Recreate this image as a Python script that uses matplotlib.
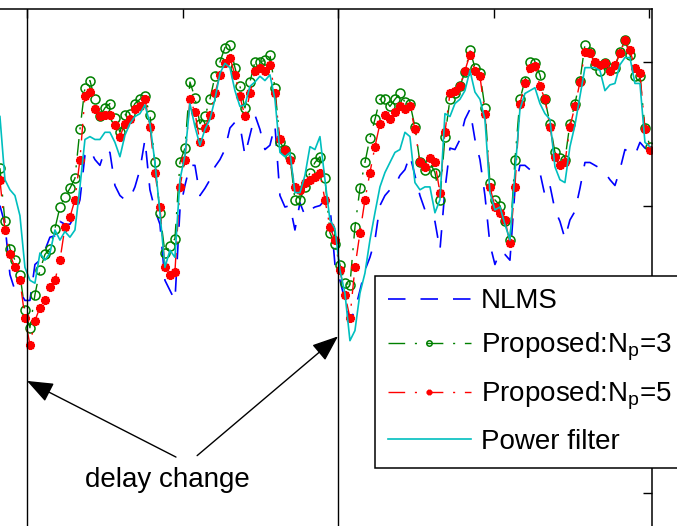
import numpy as np
import matplotlib.pyplot as plt

plt.rcParams['font.family'] = ['Liberation Sans', 'DejaVu Sans']
plt.rcParams['mathtext.fontset'] = 'custom'
plt.rcParams['mathtext.rm'] = 'Liberation Sans'
plt.rcParams['mathtext.it'] = 'Liberation Sans:italic'

# samples (only the visible part of the run)
n = np.linspace(913, 3003, 131)

# ERLE in dB
nlms = [20.0, 18.7, 15.2, 14.1, 14.0, 13.4, 13.4, 15.9, 16.2, 16.9,
        17.8, 17.9, 18.9, 18.7, 18.7, 19.3, 20.4, 23.5, 23.9, 23.2,
        22.8, 23.9, 23.7, 21.4, 20.7, 20.4, 20.5, 21.3, 22.5, 24.6,
        21.1, 19.7, 18.7, 14.8, 14.1, 13.4, 19.7, 21.4, 22.8, 22.8,
        20.7, 21.2, 21.8, 22.7, 23.2, 23.9, 25.4, 25.8, 25.6, 23.5,
        24.9, 26.3, 25.3, 23.9, 24.2, 25.6, 20.7, 19.9, 20.0, 18.3,
        20.2, 19.3, 19.7, 19.9, 20.0, 20.4, 20.0, 15.9, 14.8, 13.4,
        12.0, 12.7, 14.1, 15.5, 16.4, 17.6, 20.0, 20.7, 21.1, 21.4,
        22.1, 22.5, 23.5, 22.1, 20.7, 19.7, 19.3, 18.9, 16.9, 21.1,
        24.0, 23.9, 24.6, 26.0, 26.7, 24.6, 23.2, 20.7, 17.3, 15.9,
        16.8, 16.6, 16.2, 21.1, 22.8, 22.8, 22.5, 22.6, 22.3, 20.7,
        21.4, 19.7, 18.9, 17.7, 19.0, 19.6, 21.2, 23.0, 23.0, 22.8,
        22.6, 22.3, 21.8, 21.4, 22.5, 23.9, 23.7, 23.5, 24.4, 24.0,
        23.9]

prop3 = [22.6, 18.9, 17.0, 16.2, 15.2, 12.7, 11.5, 13.8, 15.5, 16.6,
         17.0, 18.4, 19.9, 20.6, 21.2, 21.9, 25.3, 28.2, 28.7, 27.4,
         26.2, 26.8, 27.1, 26.1, 25.1, 26.3, 26.4, 27.1, 27.4, 27.6,
         26.3, 23.0, 19.5, 16.7, 17.2, 17.7, 23.0, 24.0, 28.6, 27.5,
         25.7, 26.2, 27.4, 29.0, 30.0, 31.0, 31.2, 29.6, 28.3, 26.8,
         28.6, 30.0, 30.0, 30.1, 30.5, 28.2, 24.4, 23.9, 23.4, 20.4,
         20.4, 21.3, 22.3, 23.0, 23.4, 21.9, 18.1, 17.3, 15.9, 14.6,
         14.5, 18.5, 21.2, 23.0, 24.7, 26.0, 27.4, 27.4, 26.9, 27.4,
         27.8, 27.2, 27.1, 25.5, 23.0, 22.5, 23.0, 22.3, 20.4, 24.8,
         27.4, 27.8, 28.3, 29.3, 30.8, 29.6, 29.2, 26.8, 21.6, 20.4,
         20.0, 18.9, 17.6, 23.2, 27.4, 28.7, 30.0, 29.9, 29.1, 27.4,
         25.7, 23.7, 23.3, 23.2, 25.7, 27.1, 28.7, 31.2, 30.7, 29.8,
         29.4, 29.9, 29.6, 29.6, 30.7, 31.5, 30.5, 29.0, 29.0, 25.4,
         24.1]

prop5 = [21.8, 18.3, 16.6, 15.7, 14.8, 12.2, 10.3, 12.0, 12.9, 13.4,
         14.3, 14.8, 16.2, 18.5, 19.2, 20.4, 23.2, 27.6, 27.9, 26.7,
         26.2, 26.3, 26.3, 25.6, 24.8, 25.7, 26.0, 26.7, 26.9, 27.4,
         25.5, 22.3, 19.9, 15.7, 15.2, 15.4, 21.3, 23.2, 27.4, 26.5,
         24.4, 25.4, 26.3, 27.8, 29.1, 29.9, 30.3, 29.1, 27.6, 26.2,
         27.8, 29.4, 29.6, 29.4, 29.8, 27.8, 24.6, 23.9, 23.2, 21.3,
         21.1, 21.6, 21.8, 22.0, 22.3, 20.4, 18.5, 17.6, 15.5, 13.8,
         12.2, 15.7, 18.1, 20.4, 22.3, 24.1, 25.7, 26.3, 26.0, 26.5,
         26.9, 26.7, 26.9, 25.3, 23.0, 22.7, 23.3, 23.0, 20.9, 25.1,
         27.8, 28.0, 28.3, 29.4, 30.5, 29.4, 29.0, 26.4, 21.3, 19.9,
         19.5, 19.0, 17.4, 21.3, 27.1, 28.5, 29.6, 29.7, 28.3, 27.4,
         25.5, 23.4, 22.8, 23.0, 25.5, 26.9, 28.6, 30.7, 30.6, 30.0,
         29.8, 29.9, 29.4, 29.8, 30.6, 31.5, 30.8, 29.6, 29.2, 25.3,
         23.9]

power = [26.2, 21.8, 21.1, 20.7, 19.3, 15.7, 14.8, 14.6, 16.7, 16.2,
         16.7, 18.3, 17.6, 18.2, 17.8, 18.3, 21.3, 24.6, 24.8, 24.6,
         24.6, 25.1, 25.1, 24.4, 23.4, 24.9, 25.7, 26.2, 26.4, 27.0,
         25.7, 23.0, 19.5, 15.7, 16.9, 16.4, 21.8, 23.5, 27.1, 25.5,
         24.2, 25.3, 26.0, 27.4, 29.2, 29.9, 29.6, 28.0, 26.9, 27.0,
         28.3, 28.6, 29.0, 28.7, 29.1, 27.4, 23.7, 23.4, 23.7, 20.9,
         20.9, 22.1, 24.1, 23.9, 24.8, 21.8, 19.0, 18.4, 15.5, 13.9,
         10.6, 11.3, 13.9, 15.3, 17.6, 19.5, 21.3, 22.3, 23.0, 23.7,
         23.9, 25.1, 24.8, 21.6, 21.1, 21.3, 21.3, 19.5, 20.4, 26.4,
         26.2, 27.1, 27.4, 28.0, 29.4, 27.9, 27.4, 26.0, 20.9, 19.7,
         19.9, 18.7, 17.6, 22.3, 26.7, 27.8, 28.0, 28.2, 27.1, 26.4,
         26.0, 22.7, 21.8, 21.6, 24.1, 25.6, 27.6, 29.6, 29.6, 29.6,
         29.4, 28.0, 28.4, 28.5, 29.8, 30.3, 30.3, 28.5, 28.5, 24.4,
         24.1]

delays = [1000, 2000]

fig = plt.figure(figsize=(6.77, 5.26), dpi=100)
ax = fig.add_axes([0, 1 - 640 / 526, 652 / 677, 631 / 526])

ax.plot(n, nlms, color='#0000ff', lw=1.2, dashes=(10.5, 9), label='NLMS')
ax.plot(n, prop3, color='#008000', lw=1.0, dashes=(12, 7, 1.5, 7), marker='o',
        ms=6.5, mfc='none', mec='#008000', mew=1.1, label='Proposed:N$_\\mathrm{p}$=3')
ax.plot(n, prop5, color='#ff0000', lw=1.0, dashes=(12, 7, 1.5, 7), marker=(8, 2, 0),
        ms=6.5, mec='#ff0000', mew=1.7, label='Proposed:N$_\\mathrm{p}$=5')
ax.plot(n, power, color='#00bfbf', lw=1.2, label='Power filter')

for d in delays:
    ax.axvline(d, color='k', lw=1.0)

ax.set_xlim(913.2, 3009.6)
ax.set_ylim(-10.23, 33.68)
ax.set_xticks([1000, 1500, 2000, 2500, 3000])
ax.set_yticks([0, 10, 20, 30])
ax.tick_params(direction='in', length=6.5, width=1.0, top=True, right=True,
               bottom=False, left=False, labelbottom=False, labelleft=False)
ax.spines['left'].set_visible(False)
for s in ['top', 'right']:
    ax.spines[s].set_linewidth(1.1)

ax.text(1450, 0.9, 'delay change', ha='center', va='center', fontsize=20)
arrow = dict(arrowstyle='-|>,head_length=0.9,head_width=0.35', color='k',
             lw=1.0, mutation_scale=18, shrinkA=0, shrinkB=0)
ax.annotate('', xy=(1000, 7.8), xytext=(1479, 2.5), arrowprops=arrow)
ax.annotate('', xy=(2000, 10.9), xytext=(1547, 2.6), arrowprops=arrow)

leg = ax.legend(loc='upper left', bbox_to_anchor=(375 / 677, 1 - 276 / 526),
                bbox_transform=fig.transFigure, fontsize=20, handlelength=3.0,
                handletextpad=0.36, borderpad=0.45, labelspacing=0.6,
                numpoints=1, markerscale=0.6, fancybox=False, framealpha=1,
                edgecolor='k', borderaxespad=0)
leg.get_frame().set_linewidth(1.1)

fig.savefig('out.png', dpi=100)
